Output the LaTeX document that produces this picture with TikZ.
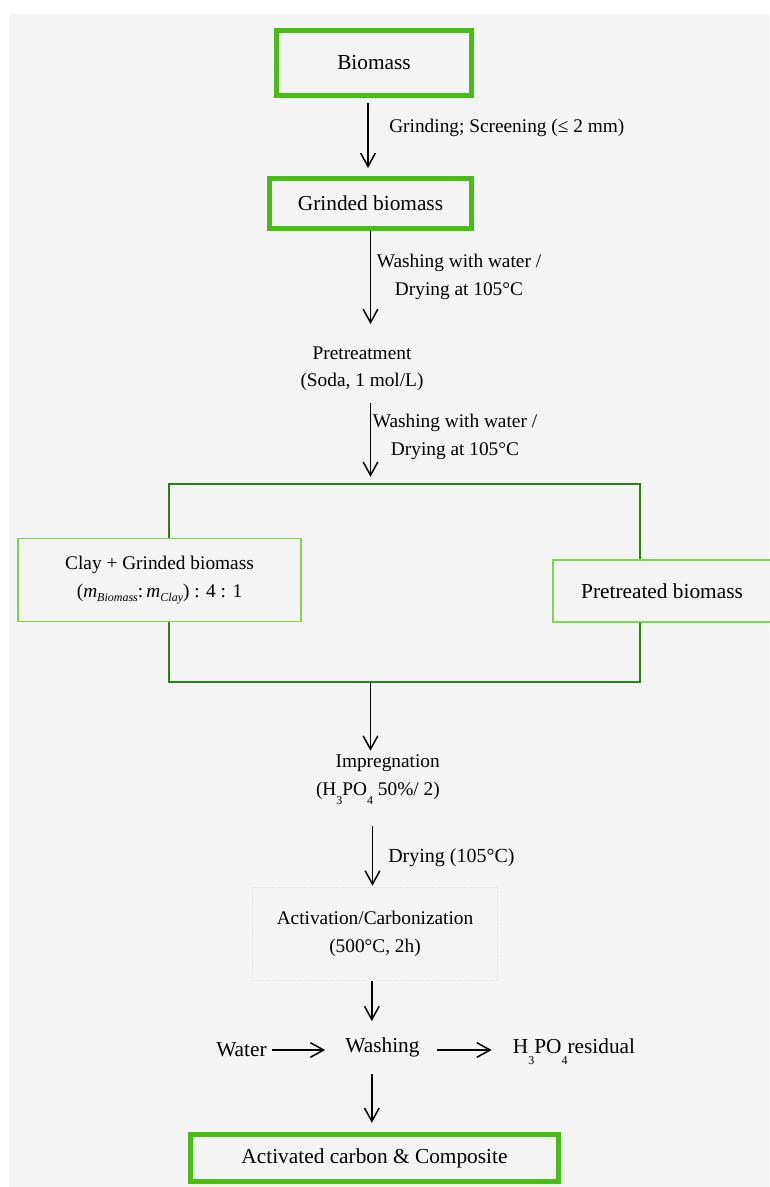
\documentclass[tikz,border=0pt]{standalone}
\usepackage{fontspec}
\setmainfont{Liberation Serif}
\usetikzlibrary{arrows.meta,positioning}
\definecolor{boxgreen}{RGB}{70,190,20}
\definecolor{darkgreen}{RGB}{40,130,20}
\definecolor{lightgreen}{RGB}{125,215,75}
\definecolor{paper}{RGB}{244,244,244}
\definecolor{faint}{RGB}{226,226,226}
\newcommand{\lowsub}[1]{\raisebox{-1.1ex}{\small #1}}
\newcommand{\masssub}[1]{\textit{m}\raisebox{-0.45ex}{\small\textit{#1}}}

\begin{document}
\begin{tikzpicture}[x=0.75pt, y=-0.75pt,
	arr/.style={line width=1.1pt, -{Straight Barb[length=10pt,width=11pt,line width=1.1pt]}},
	txt/.style={inner sep=0pt, align=center, font=\fontsize{14.5}{20.5}\selectfont},
	bigtxt/.style={inner sep=0pt, align=center, font=\fontsize{16}{20}\selectfont},
	thickbox/.style={draw=boxgreen, line width=3.75pt, fill=paper, inner sep=0pt, font=\fontsize{16}{20}\selectfont},
	thinbox/.style={draw=lightgreen, line width=1.1pt, fill=paper, inner sep=0pt}]
			%%%%% START %%%%%
			
			\useasboundingbox (0,0) rectangle (769,1187);
			\fill[paper] (9,14) rectangle (769,1187);
			
			\node[thickbox, minimum width=146pt, minimum height=49pt] (biomass) at (374,63) {Biomass};
			\node[thickbox, minimum width=151.5pt, minimum height=37.5pt] (grinded) at (370.5,203.5) {Grinded biomass};
			\node[txt, anchor=west] (grindlbl) at (389,128) {Grinding; Screening (≤ 2 mm)};
			
			\node[txt] (washlblA) at (459,277) {Washing with water /\\Drying at 105°C};
			\node[txt] (pretreat) at (362,369) {Pretreatment\\(Soda, 1 mol/L)};
			\node[txt] (washlblB) at (455,437) {Washing with water /\\Drying at 105°C};
			
			\node[draw=darkgreen, line width=1.8pt, minimum width=353pt, minimum height=148.5pt, inner sep=0pt] (mix) at (404.5,583) {};
			\node[thinbox, txt, minimum width=212.5pt, minimum height=62pt] (clay) at (159.5,580) {Clay + Grinded biomass\\(\masssub{Biomass}:\,\masssub{Clay}) : 4 : 1};
			\node[thinbox, bigtxt, minimum width=163.5pt, minimum height=46.5pt] (pretreated) at (662,591) {Pretreated biomass};
			
			\node[txt, align=right, anchor=east] (impreg) at (440,780) {Impregnation\\(H\lowsub{3}PO\lowsub{4} 50\%/ 2)};
			\node[txt, font=\fontsize{15}{18}\selectfont, anchor=west] (drylbl) at (388,858) {Drying (105°C)};
			\node[txt, draw=faint, densely dotted, line width=0.6pt, minimum width=184pt, minimum height=70pt] (activ) at (375,934) {Activation/Carbonization\\(500°C, 2h)};
			
			\node[bigtxt] (washing) at (382.5,1047) {Washing};
			\node[bigtxt] (water) at (241.5,1050) {Water};
			\node[bigtxt] (residual) at (574,1052) {H\lowsub{3}PO\lowsub{4}residual};
			
			\node[thickbox, minimum width=276pt, minimum height=35pt] (product) at (374.5,1158) {Activated carbon \& Composite};
			
			\draw[arr, shorten <=3.75pt, shorten >=6pt] ([xshift=-4.5pt]biomass.south) -- ([xshift=-4.5pt]biomass.south |- grinded.north);
			\draw[arr, shorten >=17pt] (grinded.south) -- (grinded.south |- pretreat.north);
			\draw[arr, shorten <=9pt, shorten >=4.5pt] (pretreat.south -| grinded.south) -- (mix.north -| grinded.south);
			\draw[arr, shorten >=3pt] (mix.south -| grinded.south) -- (grinded.south |- impreg.north);
			\draw[arr, shorten <=15.75pt, shorten >=1pt] ([xshift=1.5pt]impreg.south -| grinded.south) -- ([xshift=1.5pt]activ.north -| grinded.south);
			\draw[arr, shorten >=12pt] ([xshift=1pt]activ.south -| grinded.south) -- ([xshift=1pt]washing.north -| grinded.south);
			
			\draw[arr, shorten <=3.75pt, shorten >=15pt] (water.east) -- (water.east -| washing.west);
			\draw[arr, shorten <=12.75pt, shorten >=15.75pt] (washing.east |- water.east) -- (residual.west |- water.east);
			\draw[arr, shorten <=13pt, shorten >=7pt] ([xshift=1pt]washing.south -| grinded.south) -- ([xshift=1pt]product.north -| grinded.south);
			
			%%%%% END %%%%%
\end{tikzpicture}
\end{document}
